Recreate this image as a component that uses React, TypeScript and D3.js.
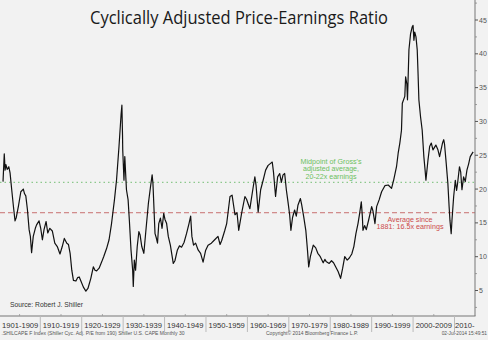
import React from "react";
import * as d3 from "d3";

const years = [
  1901.0, 1901.3, 1901.5, 1901.7, 1902.0, 1902.4, 1902.7, 1903.1, 1903.5, 1903.9,
  1904.2, 1904.7, 1905.3, 1905.9, 1906.2, 1906.5, 1906.9, 1907.3, 1907.6, 1907.9,
  1908.3, 1908.8, 1909.1, 1909.7, 1910.1, 1910.5, 1910.9, 1911.4, 1911.8, 1912.3,
  1912.9, 1913.5, 1914.1, 1914.75, 1915.3, 1915.8, 1916.4, 1916.8, 1917.2, 1917.6,
  1918.0, 1918.6, 1919.0, 1919.4, 1919.8, 1920.4, 1921.0, 1921.5, 1922.2, 1922.8,
  1923.2, 1923.6, 1924.2, 1924.8, 1925.3, 1926.0, 1926.6, 1927.2, 1927.9, 1928.4,
  1929.0, 1929.5, 1929.7, 1929.85, 1929.9, 1930.2, 1930.4, 1930.8, 1931.2, 1931.5,
  1931.9, 1932.3, 1932.45, 1932.7, 1933.0, 1933.4, 1933.8, 1934.1, 1934.5, 1935.0,
  1935.5, 1936.1, 1936.6, 1937.0, 1937.2, 1937.7, 1938.0, 1938.3, 1938.6, 1939.0,
  1939.4, 1939.8, 1940.1, 1940.5, 1940.9, 1941.4, 1942.1, 1942.5, 1943.1, 1943.6,
  1944.1, 1944.7, 1945.3, 1945.9, 1946.3, 1946.6, 1947.0, 1947.5, 1948.1, 1948.7,
  1949.3, 1949.9, 1950.5, 1951.3, 1952.1, 1952.9, 1953.4, 1953.8, 1954.5, 1955.0,
  1955.8, 1956.3, 1957.0, 1957.5, 1957.9, 1958.6, 1959.4, 1959.8, 1960.3, 1960.6,
  1961.4, 1961.8, 1962.1, 1962.6, 1963.2, 1963.8, 1964.4, 1965.0, 1965.6, 1966.0,
  1966.3, 1966.8, 1967.3, 1967.8, 1968.2, 1968.6, 1969.0, 1969.4, 1969.8, 1970.2,
  1970.5, 1970.9, 1971.4, 1971.8, 1972.2, 1972.8, 1973.1, 1973.6, 1974.1, 1974.5,
  1974.8, 1975.2, 1975.9, 1976.5, 1977.0, 1977.6, 1978.3, 1978.7, 1979.0, 1979.75,
  1980.3, 1980.8, 1981.3, 1981.9, 1982.5, 1983.0, 1983.5, 1984.1, 1984.6, 1985.2,
  1985.7, 1986.2, 1986.7, 1987.1, 1987.5, 1987.75, 1987.9, 1988.3, 1988.7, 1989.3,
  1990.0, 1990.3, 1990.8, 1991.2, 1991.8, 1992.4, 1993.2, 1994.0, 1994.8, 1995.3,
  1996.0, 1996.4, 1996.8, 1997.2, 1997.4, 1998.0, 1998.2, 1998.5, 1998.65, 1999.0,
  1999.4, 1999.8, 2000.0, 2000.2, 2000.4, 2000.7, 2001.0, 2001.2, 2001.4, 2001.8,
  2002.2, 2002.6, 2002.9, 2003.1, 2003.6, 2004.0, 2004.4, 2004.8, 2005.5, 2006.0,
  2006.4, 2007.1, 2007.4, 2007.6, 2008.0, 2008.4, 2008.7, 2008.9, 2009.2, 2009.4,
  2009.8, 2010.2, 2010.5, 2010.7, 2011.2, 2011.5, 2011.8, 2012.2, 2012.6, 2013.0,
  2013.4, 2013.8, 2014.2, 2014.5,
];

const capeValues = [
  21.1, 25.2, 22.8, 23.6, 22.9, 23.3, 22.4, 19.9, 17.5, 15.3,
  15.8, 17.4, 19.6, 20.0, 19.3, 19.0, 16.9, 14.0, 13.0, 10.6,
  13.0, 14.2, 14.7, 15.3, 14.2, 12.5, 14.0, 15.2, 13.5, 14.2,
  13.8, 12.0, 11.5, 10.4, 11.5, 12.7, 12.0, 11.8, 10.5, 8.0,
  6.5, 6.4, 6.9, 7.0, 6.4, 5.5, 4.9, 5.3, 6.8, 8.5,
  8.0, 7.9, 8.3, 9.2, 10.0, 11.2, 12.5, 14.9, 18.4, 21.3,
  26.3, 31.0, 32.4, 28.0, 25.8, 21.3, 24.8, 19.9, 18.4, 15.4,
  11.0, 8.0, 5.6, 9.5, 8.0, 11.5, 13.7, 13.2, 11.5, 10.5,
  13.9, 17.9, 20.3, 22.1, 20.8, 13.4, 12.8, 12.0, 14.9, 15.7,
  14.2, 16.4, 15.5, 14.9, 13.0, 11.7, 9.0, 9.4, 11.0, 11.6,
  11.4, 12.1, 13.4, 14.9, 16.0, 13.0, 11.7, 12.0, 11.0, 10.5,
  9.2, 10.9, 11.7, 12.0, 12.5, 13.0, 11.8, 12.4, 13.8, 14.9,
  18.9, 19.1, 16.2, 16.5, 13.9, 16.4, 18.9, 18.5, 17.6, 17.1,
  20.3, 21.8, 20.5, 16.6, 19.9, 21.3, 22.8, 23.5, 23.8, 24.0,
  22.5, 18.9, 21.8, 22.3, 21.0, 22.1, 22.3, 19.9, 18.1, 16.2,
  13.9, 15.8, 16.9, 16.0, 17.6, 18.6, 17.7, 15.9, 13.9, 11.0,
  8.5, 10.0, 11.7, 11.3, 10.5, 10.0, 9.1, 9.6, 9.3, 9.0,
  9.4, 9.1, 8.5, 7.8, 6.8, 8.3, 10.0, 9.5, 9.8, 10.4,
  11.5, 13.4, 14.9, 16.4, 18.1, 16.0, 13.9, 14.6, 14.0, 15.5,
  17.4, 16.8, 14.9, 17.4, 18.4, 19.6, 20.5, 20.6, 20.1, 21.3,
  23.3, 25.3, 26.8, 28.7, 32.7, 33.7, 36.6, 35.5, 33.2, 40.6,
  43.0, 44.0, 44.2, 42.0, 43.2, 42.5, 40.6, 37.1, 33.2, 30.7,
  28.7, 24.8, 22.8, 21.3, 24.3, 26.3, 26.8, 25.8, 26.5, 25.8,
  24.8, 26.8, 27.3, 26.6, 23.8, 20.8, 17.4, 15.4, 13.4, 15.5,
  18.9, 21.3, 19.8, 20.6, 23.3, 22.5, 19.9, 21.8, 21.1, 22.8,
  23.7, 24.8, 25.2, 25.5,
];

const decadeLabels = [
  "1901-1909", "1910-1919", "1920-1929", "1930-1939", "1940-1949", "1950-1959",
  "1960-1969", "1970-1979", "1980-1989", "1990-1999", "2000-2009", "2010-",
];
const decadeStarts = [1900, 1910, 1920, 1930, 1940, 1950, 1960, 1970, 1980, 1990, 2000, 2010];
const yTicks = [5, 10, 15, 20, 25, 30, 35, 40, 45];
const grossMidpoint = 21;
const longAverage = 16.5;

const W = 488;
const H = 340;
const AXIS_X = 475;
const AXIS_Y = 316;

export default function App() {
  const x = d3.scaleLinear().domain([1910, 2010]).range([40.3, 454.5]);
  const y = d3.scaleLinear().domain([5, 45]).range([290.5, 20]);

  const pts: [number, number][] = years.map((yr, i) => [yr, capeValues[i]]);
  const line = d3
    .line<[number, number]>()
    .x((d) => x(d[0]))
    .y((d) => y(d[1]));

  const cellEdge = (i: number) => (i === 0 ? 0 : x(decadeStarts[i]));
  const cellEnd = (i: number) => (i === decadeStarts.length - 1 ? AXIS_X : x(decadeStarts[i + 1]));

  const minorTicks = d3.range(2.5, 48, 5);
  const font = "Tahoma, 'DejaVu Sans Condensed', 'Liberation Sans', sans-serif";

  return (
    <svg
      width={W}
      height={H}
      style={{ position: "absolute", left: 0, top: 0, display: "block" }}
      fontFamily={font}
    >
      <rect x={0} y={0} width={W} height={H} fill="#f2f2f2" />

      <text
        x={239}
        y={24}
        textAnchor="middle"
        fontSize={18}
        fill="#1a1a1a"
        fontFamily="'Open Sans', sans-serif"
        textLength={298}
        lengthAdjust="spacingAndGlyphs"
      >
        Cyclically Adjusted Price-Earnings Ratio
      </text>

      {/* reference lines */}
      <line
        x1={0}
        x2={AXIS_X}
        y1={y(grossMidpoint)}
        y2={y(grossMidpoint)}
        stroke="#8cc88c"
        strokeWidth={1.2}
        strokeDasharray="1.5,3"
      />
      <line
        x1={0}
        x2={AXIS_X}
        y1={y(longAverage)}
        y2={y(longAverage)}
        stroke="#c87070"
        strokeWidth={1}
        strokeDasharray="5,3"
      />

      <g fontSize={7.5} textAnchor="middle" fill="#6cbf60" fontFamily="'Liberation Sans', sans-serif">
        <text x={331} y={163.5} textLength={61} lengthAdjust="spacingAndGlyphs">Midpoint of Gross's</text>
        <text x={331} y={171.3} textLength={56} lengthAdjust="spacingAndGlyphs">adjusted average,</text>
        <text x={331} y={179} textLength={51} lengthAdjust="spacingAndGlyphs">20-22x earnings</text>
      </g>
      <g fontSize={7.5} textAnchor="middle" fill="#cc4b4b" fontFamily="'Liberation Sans', sans-serif">
        <text x={410} y={221.5} textLength={45} lengthAdjust="spacingAndGlyphs">Average since</text>
        <text x={410} y={229.2} textLength={67} lengthAdjust="spacingAndGlyphs">1881: 16.5x earnings</text>
      </g>

      <path d={line(pts) || ""} fill="none" stroke="#111" strokeWidth={1.2} strokeLinejoin="round" />

      <text x={10} y={306.5} fontSize={7.2} fill="#333" textLength={73} lengthAdjust="spacingAndGlyphs" fontFamily="'Liberation Sans', sans-serif">
        Source: Robert J. Shiller
      </text>

      {/* right axis */}
      <line x1={AXIS_X} x2={AXIS_X} y1={0} y2={AXIS_Y} stroke="#777" strokeWidth={1} />
      {minorTicks.map((v) => (
        <line key={"m" + v} x1={AXIS_X} x2={AXIS_X + 2} y1={y(v)} y2={y(v)} stroke="#888" strokeWidth={0.8} />
      ))}
      {yTicks.map((v) => (
        <g key={v}>
          <line x1={AXIS_X} x2={AXIS_X + 3} y1={y(v)} y2={y(v)} stroke="#555" strokeWidth={1} />
          <text x={AXIS_X + 4} y={y(v) + 2.5} fontSize={7} fill="#555" fontFamily="'Liberation Sans', sans-serif">
            {v}
          </text>
        </g>
      ))}

      {/* bottom axis */}
      <line x1={0} x2={AXIS_X + 0.5} y1={AXIS_Y} y2={AXIS_Y} stroke="#777" strokeWidth={1} />
      {decadeStarts.slice(1).map((d) => (
        <line key={"div" + d} x1={x(d)} x2={x(d)} y1={AXIS_Y} y2={332} stroke="#bbb" strokeWidth={1} />
      ))}
      {decadeStarts.slice(1).map((d) => (
        <line key={"mt" + d} x1={x(d - 5)} x2={x(d - 5)} y1={AXIS_Y - 2} y2={AXIS_Y} stroke="#999" strokeWidth={0.8} />
      ))}
      {decadeLabels.map((lab, i) => (
        <text
          key={lab}
          x={(cellEdge(i) + cellEnd(i)) / 2}
          y={328}
          textAnchor="middle"
          fontSize={7.6}
          fill="#333"
          fontFamily="'Liberation Sans', sans-serif"
        >
          {lab}
        </text>
      ))}

      {/* footer */}
      <g fontSize={4.8} fill="#555" fontFamily="'Liberation Sans', sans-serif">
        <text x={1.5} y={335} textLength={183} lengthAdjust="spacingAndGlyphs">
          .SHILCAPE F Index (Shiller Cyc. Adj. P/E from 190) Shiller U.S. CAPE  Monthly 30
        </text>
        <text x={266} y={335} textLength={92} lengthAdjust="spacingAndGlyphs">
          Copyright© 2014 Bloomberg Finance L.P.
        </text>
        <text x={487} y={335} textAnchor="end">
          02-Jul-2014 15:49:51
        </text>
      </g>
    </svg>
  );
}
